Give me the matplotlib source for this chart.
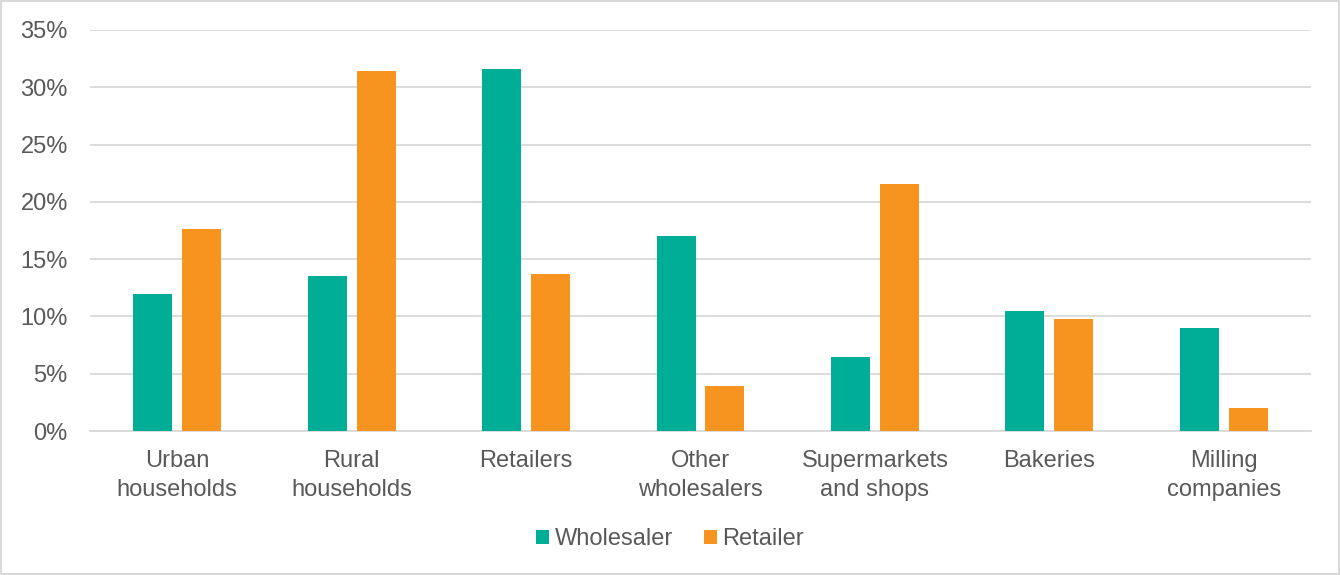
import numpy as np
import matplotlib.pyplot as plt
from matplotlib.patches import Rectangle

plt.rcParams['font.family'] = ['Liberation Sans', 'DejaVu Sans']

categories = ["Urban\nhouseholds", "Rural\nhouseholds", "Retailers", "Other\nwholesalers",
              "Supermarkets\nand shops", "Bakeries", "Milling\ncompanies"]
wholesaler = [12.0, 13.5, 31.6, 17.0, 6.5, 10.5, 9.0]
retailer = [17.6, 31.4, 13.7, 3.9, 21.6, 9.8, 2.0]
yticks = [0, 5, 10, 15, 20, 25, 30, 35]

teal = "#00AE97"
orange = "#F7941F"
text_col = "#595959"
grid_col = "#D9D9D9"

fig = plt.figure(figsize=(13.4, 5.75), dpi=100)
ax = fig.add_axes([90 / 1340, 1 - 431 / 575, (1311 - 90) / 1340, (431 - 30) / 575])

x = np.arange(len(categories))
w = 0.224
off = 0.14
ax.bar(x - off, wholesaler, w, color=teal, label="Wholesaler", zorder=3)
ax.bar(x + off, retailer, w, color=orange, label="Retailer", zorder=3)

ax.set_xlim(-0.5, len(categories) - 0.5)
ax.set_ylim(0, 35)
ax.set_yticks(yticks)
ax.set_yticklabels([f"{t}%" for t in yticks])
ax.set_xticks(x)
ax.set_xticklabels(categories, linespacing=1.4)
ax.tick_params(axis='both', length=0, labelsize=17, colors=text_col)
ax.tick_params(axis='y', pad=16)
ax.tick_params(axis='x', pad=14)
ax.grid(axis='y', color=grid_col, linewidth=1.3, zorder=0)
for s in ["top", "right", "left"]:
    ax.spines[s].set_visible(False)
ax.spines["bottom"].set_color(grid_col)
ax.spines["bottom"].set_linewidth(1.3)

leg = fig.legend(loc="center", bbox_to_anchor=(0.5, 1 - 539 / 575), ncol=2, frameon=False,
                 fontsize=17, handlelength=0.55, handleheight=0.55, handletextpad=0.25,
                 columnspacing=1.3)
for t in leg.get_texts():
    t.set_color(text_col)

# light frame around the whole figure
fig.patches.append(Rectangle((0.001, 0.002), 0.998, 0.996, transform=fig.transFigure,
                             fill=False, edgecolor="#D9D9D9", linewidth=1.5))

fig.savefig("out.png", dpi=100)
